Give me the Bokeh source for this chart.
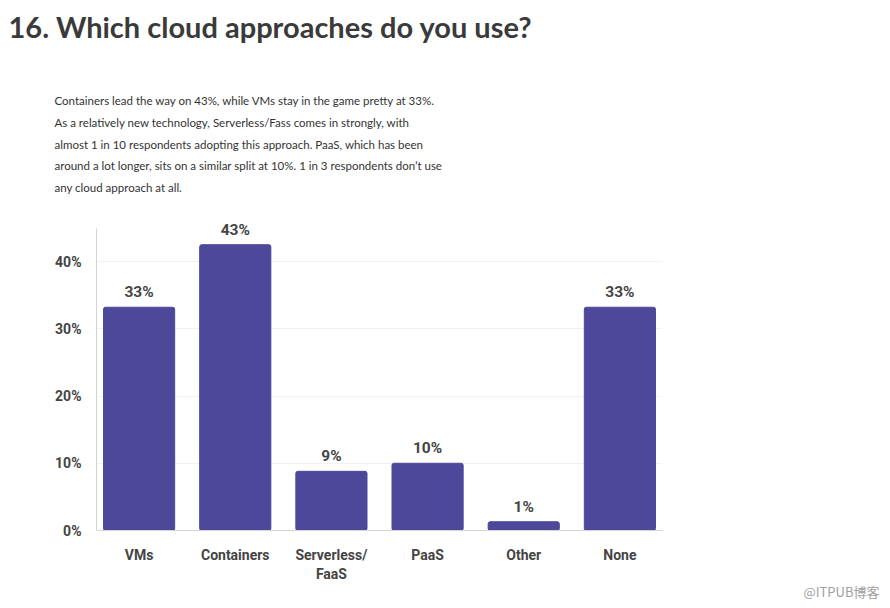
from bokeh.plotting import figure
from bokeh.models import Range1d, FixedTicker, Title
from bokeh.core.properties import value
from bokeh.embed import file_html
from bokeh.resources import INLINE

# ---- data ----
categories = ["VMs", "Containers", "Serverless/\nFaaS", "PaaS", "Other", "None"]
shares = [33.2, 42.5, 8.8, 10.0, 1.3, 33.2]
share_labels = ["33%", "43%", "9%", "10%", "1%", "33%"]
y_ticks = [0, 10, 20, 30, 40]
y_tick_labels = ["0%", "10%", "20%", "30%", "40%"]

title_text = "16. Which cloud approaches do you use?"
paragraph_lines = [
    "Containers lead the way on 43%, while VMs stay in the game pretty at 33%.",
    "As a relatively new technology, Serverless/Fass comes in strongly, with",
    "almost 1 in 10 respondents adopting this approach. PaaS, which has been",
    "around a lot longer, sits on a similar split at 10%. 1 in 3 respondents don\u2019t use",
    "any cloud approach at all.",
]
watermark = "@ITPUB博客"

xs = list(range(len(categories)))

W, H = 890, 608
TOP = 216
PX_PER_PCT = 6.725
p = figure(width=W, height=H, output_backend="svg", toolbar_location=None,
           x_range=Range1d(-0.443, len(categories) - 1 + 0.443),
           y_range=Range1d(0, (530 - TOP) / PX_PER_PCT),
           min_border_left=96, min_border_right=228, min_border_top=TOP,
           min_border_bottom=78)
p.outline_line_color = None
p.background_fill_color = "white"
p.border_fill_color = "white"

p.vbar(x=xs, top=shares, width=0.74, color="#4d4899", border_radius=2)
p.text(x=xs, y=shares, text=share_labels, text_align="center",
       text_baseline="bottom", y_offset=-6, text_font=value("Roboto"),
       text_font_style="bold", text_font_size="15.5px", text_color="#444444")

# axes
p.xaxis.ticker = FixedTicker(ticks=xs)
p.xaxis.major_label_overrides = {i: c for i, c in zip(xs, categories)}
p.xaxis.major_tick_line_color = None
p.xaxis.minor_tick_line_color = None
p.xaxis.axis_line_color = "#d4d4d4"
p.xaxis.major_label_text_font = "Roboto"
p.xaxis.major_label_text_font_style = "bold"
p.xaxis.major_label_text_font_size = "14px"
p.xaxis.major_label_text_color = "#444444"
p.xaxis.major_label_standoff = 10

p.yaxis.ticker = FixedTicker(ticks=y_ticks)
p.yaxis.bounds = (0, 44.9)
p.yaxis.major_label_overrides = {t: l for t, l in zip(y_ticks, y_tick_labels)}
p.yaxis.major_tick_line_color = None
p.yaxis.minor_tick_line_color = None
p.yaxis.axis_line_color = "#d4d4d4"
p.yaxis.major_label_text_font = "Roboto"
p.yaxis.major_label_text_font_style = "bold"
p.yaxis.major_label_text_font_size = "14px"
p.yaxis.major_label_text_color = "#444444"
p.yaxis.major_label_standoff = 9

p.xgrid.grid_line_color = None
p.ygrid.grid_line_color = "#f2f2f2"

# titles above the frame (added from the frame outward)
p.add_layout(Title(text="\n" + "\n".join(paragraph_lines), align="left", offset=-42,
                   standoff=45, text_font="Lato", text_font_style="normal",
                   text_font_size="11.5px", text_color="#333333",
                   text_line_height=1.67), "above")
p.add_layout(Title(text=title_text, align="left", offset=-88, standoff=8,
                   text_font="Lato", text_font_style="bold",
                   text_font_size="29px", text_color="#3a3a3a"), "above")

# watermark below
p.add_layout(Title(text=watermark, align="right", offset=-217, standoff=-9,
                   text_font="Noto Sans CJK SC", text_font_style="normal",
                   text_font_size="13px", text_color="#a0a0a0"), "below")

open("out.html", "w").write(file_html(p, INLINE))
